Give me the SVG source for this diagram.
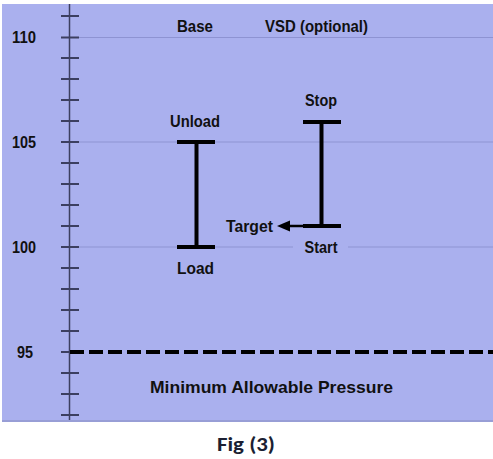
<svg xmlns="http://www.w3.org/2000/svg" width="493" height="459" viewBox="0 0 493 459">
<style>
.lbl{font-family:"Liberation Sans",Arial,sans-serif;font-weight:bold;font-size:16.5px;fill:#111;}
.grid{stroke:#8e93d2;stroke-width:1.2;}
.tick{stroke:#3c3f60;stroke-width:2;}
.bar{stroke:#000;stroke-width:4;fill:none;}
</style>
<rect x="0" y="0" width="493" height="459" fill="#fff"/>
<rect x="2" y="4" width="491" height="418" fill="#aab0ee"/>
<rect x="2" y="420" width="491" height="2" fill="#989ed6"/>
<g id="grid">
<line class="grid" x1="79" y1="37.5" x2="493" y2="37.5"/>
<line class="grid" x1="79" y1="142" x2="493" y2="142"/>
<line class="grid" x1="79" y1="247" x2="293" y2="247"/>
<line class="grid" x1="348" y1="247" x2="493" y2="247"/>
</g>
<g id="axis">
<line x1="69.5" y1="4" x2="69.5" y2="420" stroke="#3c3f60" stroke-width="1.5"/>
<path class="tick" d="M61 16H79M61 37.5H79M61 58H79M61 79H79M61 100H79M61 121H79M61 142H79M61 163H79M61 184H79M61 205H79M61 226H79M61 247H79M61 268H79M61 289H79M61 310H79M61 331H79M61 352H79M61 373H79M61 394H79M61 415H79"/>
<text class="lbl" x="12" y="43" textLength="24" lengthAdjust="spacingAndGlyphs">110</text>
<text class="lbl" x="12" y="148" textLength="24" lengthAdjust="spacingAndGlyphs">105</text>
<text class="lbl" x="12" y="253" textLength="24" lengthAdjust="spacingAndGlyphs">100</text>
<text class="lbl" x="17" y="358" textLength="16" lengthAdjust="spacingAndGlyphs">95</text>
</g>
<g id="min-pressure">
<line x1="70" y1="352" x2="493" y2="352" stroke="#000" stroke-width="4" stroke-dasharray="14 5"/>
<text class="lbl" x="150" y="392.5" font-size="20" textLength="243" lengthAdjust="spacingAndGlyphs">Minimum Allowable Pressure</text>
</g>
<g id="header-base">
<text class="lbl" x="177" y="32" textLength="36" lengthAdjust="spacingAndGlyphs">Base</text>
</g>
<g id="header-vsd">
<text class="lbl" x="265" y="32" textLength="103" lengthAdjust="spacingAndGlyphs">VSD (optional)</text>
</g>
<g id="base-range">
<path class="bar" d="M177 142H215M196.5 142V247M177 247H215"/>
<text class="lbl" x="170" y="126.5" textLength="50" lengthAdjust="spacingAndGlyphs">Unload</text>
<text class="lbl" x="177" y="274" textLength="37" lengthAdjust="spacingAndGlyphs">Load</text>
</g>
<g id="vsd-range">
<path class="bar" d="M303 122H341M321.5 122V226M303 226H341"/>
<text class="lbl" x="305" y="106" textLength="32" lengthAdjust="spacingAndGlyphs">Stop</text>
<text class="lbl" x="304.5" y="253" textLength="33" lengthAdjust="spacingAndGlyphs">Start</text>
</g>
<g id="connectors">
<line x1="304" y1="226" x2="288" y2="226" stroke="#000" stroke-width="2.5"/>
<polygon points="277,226 290,220.5 290,231.5" fill="#000"/>
</g>
<g id="target">
<text class="lbl" x="226" y="232" textLength="47" lengthAdjust="spacingAndGlyphs">Target</text>
</g>
<g id="caption">
<text x="246" y="451" text-anchor="middle" font-family="Carlito,'Liberation Sans',sans-serif" font-weight="bold" font-size="20" textLength="58" lengthAdjust="spacingAndGlyphs" fill="#1b1f33">Fig (3)</text>
</g>
</svg>
